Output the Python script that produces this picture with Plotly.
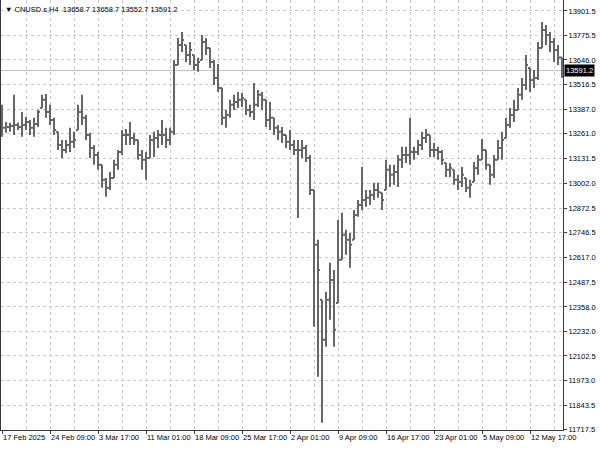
import plotly.graph_objects as go

# ---- data (each entry ~ one 4px column of the H4 chart) ----
high = [13412, 13323, 13318, 13464, 13318, 13375, 13349, 13333, 13344, 13385,
        13464, 13469, 13412, 13344, 13271, 13229, 13229, 13292, 13271, 13412,
        13464, 13359, 13266, 13203, 13166, 13099, 13031, 13062, 13125, 13177,
        13281, 13286, 13323, 13266, 13229, 13177, 13166, 13255, 13271, 13281,
        13333, 13292, 13292, 13646, 13761, 13792, 13724, 13740, 13672, 13657,
        13776, 13761, 13709, 13646, 13625, 13500, 13385, 13438, 13464, 13479,
        13474, 13438, 13412, 13526, 13490, 13479, 13438, 13427, 13344, 13307,
        13297, 13255, 13281, 13229, 13229, 13229, 13203, 13151, 12968, 12708,
        12395, 12437, 12588, 12551, 12812, 12849, 12760, 12744, 12864, 12916,
        13088, 12968, 12968, 13005, 13005, 12953, 13125, 13099, 13099, 13151,
        13193, 13193, 13344, 13193, 13229, 13271, 13286, 13255, 13213, 13193,
        13177, 13109, 13109, 13073, 13047, 13088, 13031, 13021, 13114, 13151,
        13234, 13177, 13099, 13151, 13229, 13271, 13344, 13396, 13438, 13500,
        13552, 13672, 13604, 13594, 13740, 13844, 13828, 13792, 13761, 13724,
        13658.7]
low = [13245, 13266, 13271, 13255, 13281, 13245, 13281, 13255, 13245, 13297,
       13396, 13344, 13307, 13255, 13177, 13135, 13161, 13166, 13187, 13281,
       13307, 13229, 13135, 13099, 13073, 12979, 12932, 12968, 13031, 13073,
       13151, 13203, 13203, 13203, 13125, 13073, 13021, 13135, 13140, 13187,
       13203, 13187, 13203, 13255, 13620, 13688, 13636, 13620, 13594, 13584,
       13646, 13672, 13604, 13516, 13479, 13307, 13292, 13344, 13385, 13396,
       13401, 13359, 13349, 13333, 13401, 13385, 13297, 13281, 13255, 13229,
       13213, 13187, 13177, 13151, 12822, 13135, 13114, 12942, 12254, 11994,
       11754, 12150, 12291, 12150, 12379, 12604, 12630, 12562, 12708, 12828,
       12864, 12880, 12890, 12916, 12927, 12864, 12968, 12984, 12995, 12984,
       13083, 13109, 13099, 13125, 13151, 13177, 13213, 13140, 13140, 13125,
       13099, 13036, 13036, 12995, 12968, 12984, 12958, 12927, 13010, 13047,
       13125, 13073, 12995, 13031, 13125, 13125, 13239, 13292, 13323, 13385,
       13438, 13490, 13479, 13500, 13542, 13709, 13724, 13688, 13636, 13620,
       13552.7]
close = [13292, 13297, 13302, 13307, 13297, 13307, 13323, 13292, 13312, 13375,
         13438, 13375, 13333, 13281, 13203, 13177, 13203, 13219, 13229, 13375,
         13344, 13255, 13187, 13151, 13099, 13021, 12979, 13031, 13099, 13166,
         13255, 13255, 13239, 13229, 13151, 13125, 13135, 13229, 13239, 13255,
         13255, 13229, 13271, 13620, 13724, 13750, 13672, 13698, 13620, 13636,
         13740, 13709, 13636, 13552, 13500, 13344, 13359, 13412, 13427, 13438,
         13448, 13385, 13375, 13412, 13464, 13438, 13333, 13344, 13292, 13271,
         13255, 13219, 13203, 13177, 13177, 13187, 13135, 12968, 12682, 12551,
         12187, 12395, 12499, 12239, 12604, 12734, 12708, 12682, 12838, 12890,
         12916, 12927, 12942, 12968, 12958, 12916, 13073, 13047, 13062, 13125,
         13151, 13151, 13166, 13166, 13203, 13239, 13255, 13177, 13177, 13166,
         13125, 13073, 13083, 13021, 13010, 13047, 12979, 12995, 13083, 13125,
         13177, 13099, 13047, 13125, 13187, 13229, 13307, 13359, 13385, 13464,
         13516, 13620, 13542, 13552, 13709, 13802, 13776, 13740, 13698, 13658.7,
         13591.2]
first_open = 13330

price_ticks = [13901.5, 13775.5, 13646.0, 13516.5, 13387.0, 13261.0, 13131.5,
               13002.0, 12872.5, 12746.5, 12617.0, 12487.5, 12358.0, 12232.0,
               12102.5, 11973.0, 11843.5, 11717.5]
time_labels = ["17 Feb 2025", "24 Feb 09:00", "3 Mar 17:00", "11 Mar 01:00",
               "18 Mar 09:00", "25 Mar 17:00", "2 Apr 01:00", "9 Apr 09:00",
               "16 Apr 17:00", "23 Apr 01:00", "5 May 09:00", "12 May 17:00"]
symbol = "CNUSD.s,H4"
last_bid = 13591.2

# ---- build ----
n = len(close)
xs = list(range(n))
opens = [first_open] + close[:-1]
opens = [min(max(o, l), h) for o, l, h in zip(opens, low, high)]

label_step = 12
grid_step = 6
tick_pos = [k * label_step for k in range(len(time_labels))]
grid_pos = [k * grid_step for k in range(n // grid_step + 1)]

FONT = "Liberation Sans"
FS = 7.5
bar_col = "#666666"
grid_col = "#c8c8c8"
frame_col = "#3a3a3a"

fig = go.Figure(go.Ohlc(
    x=xs, open=opens, high=high, low=low, close=close,
    increasing=dict(line=dict(color=bar_col, width=2)),
    decreasing=dict(line=dict(color=bar_col, width=2)),
    tickwidth=0.5, hoverinfo="skip", showlegend=False,
))

fig.add_shape(type="line", xref="paper", x0=0, x1=1, yref="y",
              y0=last_bid, y1=last_bid, line=dict(color="#c0c0c0", width=1),
              layer="below")

fig.update_layout(
    width=600, height=450,
    margin=dict(l=1, r=37, t=0, b=20),
    paper_bgcolor="white", plot_bgcolor="white",
    font=dict(family=FONT, size=FS, color="black"),
    showlegend=False,
    xaxis=dict(
        range=[-0.25, n - 0.75],
        rangeslider=dict(visible=False),
        tickmode="array", tickvals=tick_pos, ticktext=time_labels,
        tickangle=0,
        ticks="outside", ticklen=3, tickcolor=frame_col, tickwidth=1,
        ticklabelposition="outside right",
        showgrid=False, zeroline=False,
        showline=True, linecolor=frame_col, linewidth=1, mirror=False,
        tickfont=dict(family=FONT, size=FS, color="black"),
        minor=dict(tickmode="array", tickvals=grid_pos, showgrid=True,
                   gridcolor=grid_col, griddash="dot", gridwidth=1, ticks=""),
        fixedrange=True,
    ),
    yaxis=dict(
        side="right",
        range=[11716.0, 13958.8],
        tickmode="array", tickvals=price_ticks,
        ticktext=[f"{v:.1f}" for v in price_ticks],
        ticks="outside", ticklen=3, tickcolor=frame_col, tickwidth=1,
        showgrid=True, gridcolor=grid_col, griddash="dot", gridwidth=1,
        zeroline=False,
        showline=True, linecolor=frame_col, linewidth=1, mirror=True,
        tickfont=dict(family=FONT, size=FS, color="black"),
        fixedrange=True,
    ),
)

fig.add_annotation(
    xref="paper", yref="paper", x=0, y=1, xanchor="left", yanchor="top",
    xshift=2, yshift=-3, showarrow=False,
    text=f"\u25BC {symbol}  13658.7 13658.7 13552.7 {last_bid:.1f}",
    font=dict(family=FONT, size=FS, color="black"),
)
fig.add_annotation(
    xref="paper", yref="y", x=1, y=last_bid, xanchor="left", yanchor="middle",
    xshift=1, showarrow=False, text=f"{last_bid:.1f}",
    font=dict(family=FONT, size=FS, color="white"),
    bgcolor="black", borderpad=1,
)

fig.write_html(
    "out.html",
    config={"displayModeBar": False},
    post_script="document.body.style.margin='0';document.body.style.padding='0';",
)
